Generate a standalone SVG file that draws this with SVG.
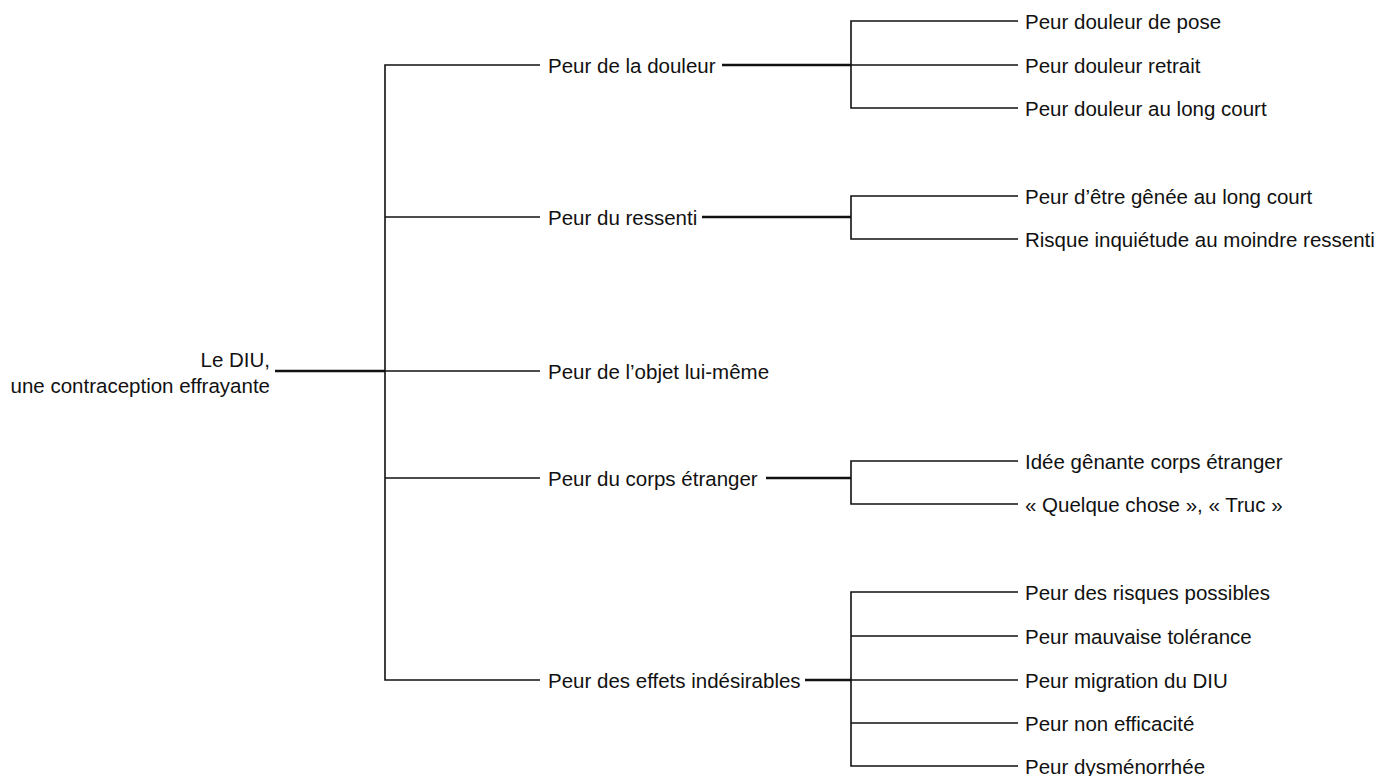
<svg xmlns="http://www.w3.org/2000/svg" width="1378" height="776" viewBox="0 0 1378 776">
<style>
text{font-family:"Liberation Sans",Arial,sans-serif;font-size:20.5px;fill:#111}
.l{stroke:#111;stroke-width:1.6;fill:none}
.t{stroke:#111;stroke-width:2.4;fill:none}
</style>
<rect width="1378" height="776" fill="#fff"/>
<g id="connectors">
<line class="t" x1="275" y1="371" x2="385" y2="371"/>
<polyline class="l" points="540,65 385,65 385,680 540,680"/>
<line class="l" x1="385" y1="217" x2="540" y2="217"/>
<line class="l" x1="385" y1="371" x2="540" y2="371"/>
<line class="l" x1="385" y1="478" x2="540" y2="478"/>
<line class="t" x1="722" y1="65" x2="851" y2="65"/>
<polyline class="l" points="1018,21 851,21 851,108 1018,108"/>
<line class="l" x1="851" y1="65" x2="1018" y2="65"/>
<line class="t" x1="702" y1="217" x2="851" y2="217"/>
<polyline class="l" points="1018,196 851,196 851,239 1018,239"/>
<line class="t" x1="766" y1="478" x2="851" y2="478"/>
<polyline class="l" points="1018,461 851,461 851,504 1018,504"/>
<line class="t" x1="805" y1="680" x2="851" y2="680"/>
<polyline class="l" points="1018,592 851,592 851,766 1018,766"/>
<line class="l" x1="851" y1="636" x2="1018" y2="636"/>
<line class="l" x1="851" y1="680" x2="1018" y2="680"/>
<line class="l" x1="851" y1="723" x2="1018" y2="723"/>
</g>
<g id="root"><text x="270" y="367" text-anchor="end">Le DIU,</text><text x="270" y="393" text-anchor="end">une contraception effrayante</text></g>
<g id="n1"><text x="548" y="73">Peur de la douleur</text></g>
<g id="n2"><text x="548" y="225">Peur du ressenti</text></g>
<g id="n3"><text x="548" y="379">Peur de l’objet lui-même</text></g>
<g id="n4"><text x="548" y="486">Peur du corps étranger</text></g>
<g id="n5"><text x="548" y="688">Peur des effets indésirables</text></g>
<g id="n1a"><text x="1025" y="29">Peur douleur de pose</text></g>
<g id="n1b"><text x="1025" y="73">Peur douleur retrait</text></g>
<g id="n1c"><text x="1025" y="116">Peur douleur au long court</text></g>
<g id="n2a"><text x="1025" y="204">Peur d’être gênée au long court</text></g>
<g id="n2b"><text x="1025" y="247">Risque inquiétude au moindre ressenti</text></g>
<g id="n4a"><text x="1025" y="469">Idée gênante corps étranger</text></g>
<g id="n4b"><text x="1025" y="512">« Quelque chose », « Truc »</text></g>
<g id="n5a"><text x="1025" y="600">Peur des risques possibles</text></g>
<g id="n5b"><text x="1025" y="644">Peur mauvaise tolérance</text></g>
<g id="n5c"><text x="1025" y="688">Peur migration du DIU</text></g>
<g id="n5d"><text x="1025" y="731">Peur non efficacité</text></g>
<g id="n5e"><text x="1025" y="774">Peur dysménorrhée</text></g>
</svg>
